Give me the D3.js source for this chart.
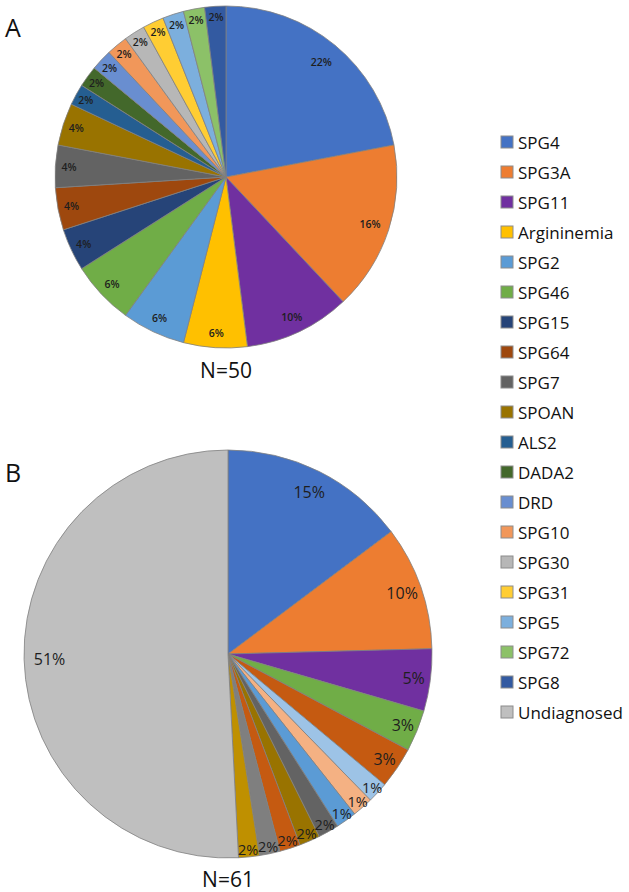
<!DOCTYPE html>
<html>
<head>
<meta charset="utf-8">
<script src="https://cdn.jsdelivr.net/npm/d3@7"></script>
<style>
  html, body { margin: 0; padding: 0; background: #fff; }
  svg { display: block; }
  text { font-family: "Open Sans", "DejaVu Sans", sans-serif; }
</style>
</head>
<body>
<svg id="visualization" width="629" height="892"></svg>
<script>
// legend (shared by both pies)
const legendNames = ["SPG4", "SPG3A", "SPG11", "Argininemia", "SPG2", "SPG46", "SPG15", "SPG64", "SPG7", "SPOAN",
    "ALS2", "DADA2", "DRD", "SPG10", "SPG30", "SPG31", "SPG5", "SPG72", "SPG8", "Undiagnosed"];
const legendColours = ["#4472c4", "#ed7d31", "#7030a0", "#ffc000", "#5b9bd5", "#70ad47", "#264478", "#9e480e", "#636363", "#997300",
    "#255e91", "#43682b", "#698ed0", "#f1975a", "#b7b7b7", "#ffcd33", "#7cafdd", "#8cc168", "#335aa1", "#bfbfbf"];

// pie A: diagnosed patients, N=50 (counts, clockwise from 12 o'clock)
const pieACounts = [11, 8, 5, 3, 3, 3, 2, 2, 2, 2, 1, 1, 1, 1, 1, 1, 1, 1, 1];
const pieAColours = legendColours.slice(0, 19);

// pie B: all patients, N=61
const pieBCounts = [9, 6, 3, 2, 2, 1, 1, 1, 1, 1, 1, 1, 1, 31];
const pieBLabels = ["15%", "10%", "5%", "3%", "3%", "1%", "1%", "1%", "2%", "2%", "2%", "2%", "2%", "51%"];
const pieBColours = ["#4472c4", "#ed7d31", "#7030a0", "#70ad47", "#c55a11", "#9dc3e6", "#f4b183", "#5b9bd5",
    "#636363", "#997300", "#c55a11", "#7f7f7f", "#bf9000", "#bfbfbf"];

const svg = d3.select("#visualization");

// labels of thin slices sit closer to the rim
const labelFactor = d3.scaleLinear()
    .domain([0.016, 0.02, 0.04, 0.2])
    .range([0.965, 0.935, 0.92, 0.875])
    .clamp(true);

const drawPie = (cx, cy, r, counts, colours, labels, fontSize, smallFontSize, weight, letter, letterPos, nText, nY) => {
    const total = d3.sum(counts);
    const pie = d3.pie().sort(null).value(d => d)(counts);
    const arc = d3.arc().innerRadius(0).outerRadius(r);

    const g = svg.append("g").attr("transform", `translate(${cx}, ${cy})`);

    g.selectAll(".slice")
        .data(pie)
        .join("path")
        .attr("class", "slice")
        .attr("d", arc)
        .attr("fill", (_, i) => colours[i])
        .attr("stroke", "#808080")
        .attr("stroke-width", 0.8);

    g.selectAll(".slice-label")
        .data(pie)
        .join("text")
        .attr("class", "slice-label")
        .attr("text-anchor", "middle")
        .attr("dominant-baseline", "central")
        .attr("font-size", d => d.value / total < 0.018 ? smallFontSize : fontSize)
        .attr("font-weight", weight)
        .attr("fill", "#1e1e1e")
        .attr("transform", d => {
            const a = (d.startAngle + d.endAngle) / 2;
            const lr = r * labelFactor(d.value / total);
            return `translate(${lr * Math.sin(a)}, ${-lr * Math.cos(a)})`;
        })
        .text((d, i) => labels ? labels[i] : Math.round(100 * d.value / total) + "%");

    svg.append("text")
        .attr("x", cx)
        .attr("y", nY)
        .attr("text-anchor", "middle")
        .attr("font-size", 21)
        .attr("fill", "#111")
        .text(nText);

    svg.append("text")
        .attr("x", letterPos[0])
        .attr("y", letterPos[1])
        .attr("font-size", 25)
        .attr("fill", "#111")
        .text(letter);
};

drawPie(226, 177, 171, pieACounts, pieAColours, null, 10.5, 10.5, 600, "A", [5, 37], "N=50", 378);
drawPie(228, 654, 204, pieBCounts, pieBColours, pieBLabels, 16, 14.5, 400, "B", [5, 482], "N=61", 887);

// legend
const legendY = d3.scalePoint().domain(legendNames).range([142, 712]);

const legendItems = svg.selectAll(".legend-item")
    .data(legendNames)
    .join("g")
    .attr("class", "legend-item")
    .attr("transform", d => `translate(501, ${legendY(d)})`);

legendItems.append("rect")
    .attr("x", 0)
    .attr("y", -6)
    .attr("width", 12)
    .attr("height", 12)
    .attr("fill", (_, i) => legendColours[i])
    .attr("stroke", "#8c8c8c")
    .attr("stroke-width", 1);

legendItems.append("text")
    .attr("x", 17)
    .attr("y", 0)
    .attr("dominant-baseline", "central")
    .attr("font-size", 17)
    .attr("fill", "#111")
    .text(d => d);
</script>
</body>
</html>
